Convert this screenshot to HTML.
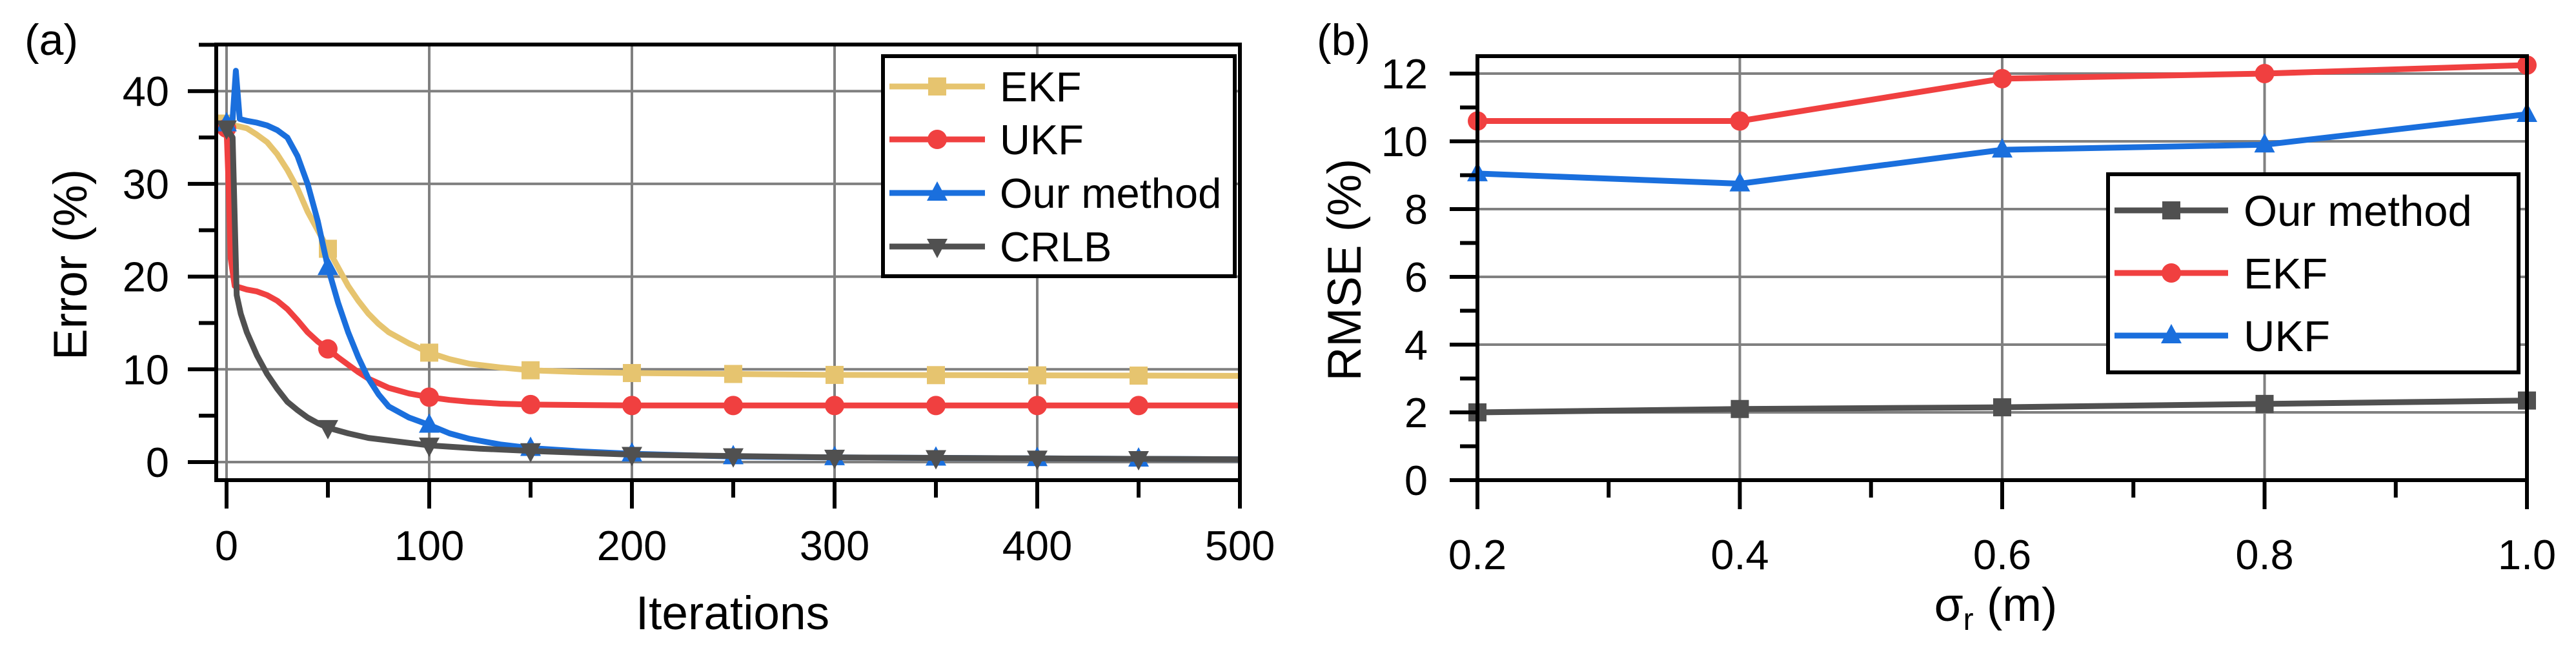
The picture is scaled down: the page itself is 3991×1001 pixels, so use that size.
<!DOCTYPE html>
<html><head><meta charset="utf-8"><style>
html,body{margin:0;padding:0;background:#fff;}
svg{display:block;font-family:"Liberation Sans",sans-serif;}
</style></head><body>
<svg id="fig" width="3991" height="1001" viewBox="0 0 3991 1001" xmlns="http://www.w3.org/2000/svg">
<rect width="3991" height="1001" fill="#fff"/>
<g id="pa"></g>
<g id="pb"></g>
</svg>
<script>
// Panel (a) data
const aEkfX = [0,10,15,20,25,30,35,40,45,50,55,60,65,70,75,80,90,100,110,120,135,150,175,200,250,300,400,500];
const aEkfY = [36.5,36,35.3,34.5,33.2,31.5,29.5,27,25,23,21,19,17.4,16,14.9,14,12.8,11.8,11.1,10.6,10.2,9.9,9.7,9.6,9.5,9.4,9.35,9.3];
const aUkfX = [0,1,2,4,10,15,20,25,30,35,40,45,50,55,60,65,70,75,80,90,100,110,120,135,150,175,200,300,500];
const aUkfY = [36,30,22,19,18.6,18.4,18,17.4,16.5,15.3,14,13,12.2,11.3,10.5,9.7,9,8.5,8,7.4,7.0,6.7,6.5,6.3,6.2,6.15,6.1,6.1,6.1];
const aOurX = [0,3,4.6,6.5,10,15,20,25,30,35,40,45,50,55,60,65,70,75,80,90,100,110,120,135,150,175,200,250,300,400,500];
const aOurY = [36.5,37,42.2,37,36.8,36.6,36.3,35.8,35,33,30,26,21,17.2,14,11.3,9,7.3,6,4.8,4,3.1,2.5,1.9,1.5,1.15,0.9,0.6,0.5,0.4,0.3];
const aCrlbX = [0,3,5,7,10,15,20,25,30,35,40,45,50,60,70,85,100,125,150,200,300,400,500];
const aCrlbY = [36,35,18,16,14,11.5,9.5,7.9,6.5,5.6,4.8,4.2,3.7,3.1,2.6,2.2,1.8,1.45,1.2,0.8,0.5,0.4,0.3];
const aMarkX = [0,50,100,150,200,250,300,350,400,450];
const aXTicks = ["0","100","200","300","400","500"];
const aYTicks = ["0","10","20","30","40"];
// Panel (b) data
const bX = [0.2,0.4,0.6,0.8,1.0];
const bOur = [2.0,2.1,2.15,2.25,2.35];
const bEkf = [10.6,10.6,11.85,12.0,12.25];
const bUkf = [9.05,8.75,9.75,9.9,10.8];
const bXTicks = ["0.2","0.4","0.6","0.8","1.0"];
const bYTicks = ["0","2","4","6","8","10","12"];

const NS="http://www.w3.org/2000/svg";
function mk(parent,tag,attrs){const e=document.createElementNS(NS,tag);for(const k in attrs)e.setAttribute(k,attrs[k]);parent.appendChild(e);return e;}
const C={ekf:"#e6c46f",red:"#f04040",blue:"#1a6fdd",dark:"#505050"};

function interp(xs,ys,x){for(let i=0;i<xs.length-1;i++){if(x>=xs[i]&&x<=xs[i+1]){const t=(x-xs[i])/(xs[i+1]-xs[i]);return ys[i]+t*(ys[i+1]-ys[i]);}}return ys[ys.length-1];}

function marker(g,type,x,y,color,name){
  let e;
  if(type==="square"){e=mk(g,"rect",{x:x-14,y:y-14,width:28,height:28,fill:color});}
  else if(type==="circle"){e=mk(g,"circle",{cx:x,cy:y,r:15,fill:color});}
  else if(type==="tri"){e=mk(g,"polygon",{points:`${x},${y-18} ${x-16},${y+12} ${x+16},${y+12}`,fill:color});}
  else {e=mk(g,"polygon",{points:`${x},${y+18} ${x-16},${y-12} ${x+16},${y-12}`,fill:color});}
  
  
}
function text(g,x,y,s,size,anchor,name){
  const t=mk(g,"text",{x:x,y:y,"font-size":size,"text-anchor":anchor,fill:"#000"});
  t.textContent=s;
  
  
  return t;
}

// ---------- Panel A ----------
(function(){
  const g=document.getElementById("pa");
  const L=335,R=1921,T=69,B=744;
  const sx=v=>351+v*3.14, sy=v=>716-v*14.37;
  [0,100,200,300,400].forEach(v=>{const l=mk(g,"line",{x1:sx(v),x2:sx(v),y1:T,y2:B,stroke:"#808080","stroke-width":4});});
  [0,10,20,30,40].forEach(v=>{const l=mk(g,"line",{x1:L,x2:R,y1:sy(v),y2:sy(v),stroke:"#808080","stroke-width":4});});
  const series=[[aEkfX,aEkfY,C.ekf,"square","ekf"],[aUkfX,aUkfY,C.red,"circle","ukf"],[aOurX,aOurY,C.blue,"tri","our-method"],[aCrlbX,aCrlbY,C.dark,"tridown","crlb"]];
  series.forEach(([xs,ys,col,mt,nm])=>{
    const d=xs.map((x,i)=>(i?"L":"M")+sx(x).toFixed(1)+","+sy(ys[i]).toFixed(1)).join(" ");
    const p=mk(g,"path",{d:d,fill:"none",stroke:col,"stroke-width":9,"stroke-linejoin":"round"});
    
    
    aMarkX.forEach(x=>marker(g,mt,sx(x),sy(interp(xs,ys,x)),col,'marker-'+nm));
  });
  const f=mk(g,"rect",{x:L,y:T,width:R-L,height:B-T,fill:"none",stroke:"#000","stroke-width":6});
  
  for(let v=0;v<=500;v+=50){const maj=v%100===0;const l=mk(g,"line",{x1:sx(v),x2:sx(v),y1:B,y2:B+(maj?44:27),stroke:"#000","stroke-width":6});}
  for(let v=0;v<=45;v+=5){const maj=v%10===0;const l=mk(g,"line",{x1:L-(maj?44:27),x2:L,y1:sy(v),y2:sy(v),stroke:"#000","stroke-width":6});}
  aXTicks.forEach(s=>text(g,sx(+s),868,s,65,"middle","x-tick-label"));
  aYTicks.forEach(s=>text(g,262,sy(+s)+23,s,65,"end","y-tick-label"));
  text(g,1135,975,"Iterations",73,"middle","x-axis-title");
  const yt=text(g,0,0,"Error (%)",73,"middle","y-axis-title");
  yt.setAttribute("transform","translate(134,410) rotate(-90)");
  text(g,38,85,"(a)",68,"start","panel-label-a");
  const lg=mk(g,"g",{});
  mk(lg,"rect",{x:1368,y:87,width:545,height:341,fill:"#fff",stroke:"#000","stroke-width":6});
  [["EKF",C.ekf,"square",134],["UKF",C.red,"circle",216],["Our method",C.blue,"tri",299],["CRLB",C.dark,"tridown",382]].forEach(([n,c,m,y])=>{
    const l=mk(lg,"line",{x1:1378,x2:1526,y1:y,y2:y,stroke:c,"stroke-width":9});
    marker(lg,m,1452,y,c,'legend-marker');
    text(lg,1549,y+23,n,65,"start","legend-entry");
  });
})();

// ---------- Panel B ----------
(function(){
  const g=document.getElementById("pb");
  const L=2289,R=3915,T=87,B=744;
  const sx=v=>L+(v-0.2)/0.8*(R-L), sy=v=>744-v*52.5;
  [0.4,0.6,0.8].forEach(v=>{const l=mk(g,"line",{x1:sx(v),x2:sx(v),y1:T,y2:B,stroke:"#808080","stroke-width":4});});
  [2,4,6,8,10,12].forEach(v=>{const l=mk(g,"line",{x1:L,x2:R,y1:sy(v),y2:sy(v),stroke:"#808080","stroke-width":4});});
  [[bOur,C.dark,"square","our-method"],[bEkf,C.red,"circle","ekf"],[bUkf,C.blue,"tri","ukf"]].forEach(([ys,col,mt,nm])=>{
    const d=bX.map((x,i)=>(i?"L":"M")+sx(x).toFixed(1)+","+sy(ys[i]).toFixed(1)).join(" ");
    const p=mk(g,"path",{d:d,fill:"none",stroke:col,"stroke-width":9,"stroke-linejoin":"round"});
    
    
    bX.forEach((x,i)=>marker(g,mt,sx(x),sy(ys[i]),col,'marker-'+nm));
  });
  const f=mk(g,"rect",{x:L,y:T,width:R-L,height:B-T,fill:"none",stroke:"#000","stroke-width":6});
  
  for(let i=0;i<=8;i++){const v=0.2+i*0.1;const maj=i%2===0;const l=mk(g,"line",{x1:sx(v),x2:sx(v),y1:B,y2:B+(maj?45:27),stroke:"#000","stroke-width":6});}
  for(let v=0;v<=12;v+=1){const maj=v%2===0;const l=mk(g,"line",{x1:L-(maj?43:27),x2:L,y1:sy(v),y2:sy(v),stroke:"#000","stroke-width":6});}
  bXTicks.forEach(s=>text(g,sx(+s),882,s,65,"middle","x-tick-label"));
  bYTicks.forEach(s=>text(g,2212,sy(+s)+23,s,65,"end","y-tick-label"));
  const xt=text(g,3092,962,"",73,"middle","x-axis-title");
  const t1=mk(xt,"tspan",{});t1.textContent="σ";
  const t2=mk(xt,"tspan",{"font-size":48,dy:14});t2.textContent="r";
  const t3=mk(xt,"tspan",{dy:-14});t3.textContent=" (m)";
  const yt=text(g,0,0,"RMSE (%)",73,"middle","y-axis-title");
  yt.setAttribute("transform","translate(2108,418) rotate(-90)");
  text(g,2040,85,"(b)",68,"start","panel-label-b");
  const lg=mk(g,"g",{});
  mk(lg,"rect",{x:3266,y:270,width:636,height:307,fill:"#fff",stroke:"#000","stroke-width":6});
  [["Our method",C.dark,"square",326],["EKF",C.red,"circle",423],["UKF",C.blue,"tri",520]].forEach(([n,c,m,y])=>{
    const l=mk(lg,"line",{x1:3276,x2:3452,y1:y,y2:y,stroke:c,"stroke-width":9});
    marker(lg,m,3364,y,c,'legend-marker');
    text(lg,3476,y+24,n,67,"start","legend-entry");
  });
})();
</script>
</body></html>
